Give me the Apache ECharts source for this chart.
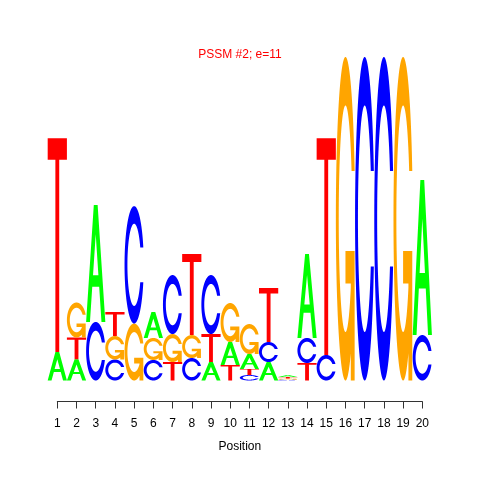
<!DOCTYPE html>
<html><head><meta charset="utf-8">
<script src="https://cdn.jsdelivr.net/npm/echarts@6/dist/echarts.min.js"></script>
<style>html,body{margin:0;padding:0;background:#fff}#c{width:480px;height:480px}</style>
</head><body><div id="c"></div>
<script>
// ---- data (information content in bits per letter) ----
const positions = [1,2,3,4,5,6,7,8,9,10,11,12,13,14,15,16,17,18,19,20];
const tickLabels = ['1','2','3','4','5','6','7','8','9','10','11','12','13','14','15','16','17','18','19','20'];
const letters = ['A','C','G','T'];
const bitsA = [0.176,0.132,0.723,0,    0,    0.161,0,    0,    0.114,0.142,0.093,0.114,0.012,0.519,0,    0,  0,  0,  0,  0.958];
const bitsC = [0,    0,    0.362,0.130,0.726,0.127,0.365,0.139,0.365,0,    0.034,0.124,0.005,0.155,0.158,0,  2.0,2.0,0,  0.281];
const bitsG = [0,    0.216,0,    0.145,0.352,0.136,0.173,0.142,0,    0.241,0.185,0,    0.007,0,    0,    2.0,0,  0,  2.0,0];
const bitsT = [1.321,0.134,0,    0.148,0,    0,    0.114,0.501,0.173,0.096,0.037,0.334,0.009,0.108,1.340,0,  0,  0,  0,  0];
const titleText = 'PSSM #2; e=11';
const xName = 'Position';

// ---- letter glyph polygons (unit box, y up) ----
const colors = ['#00FF00','#0000FF','#FFA500','#FF0000'];
function ringC() {
  const n = 100;
  const a1 = [], a2 = [];
  for (let i = 0; i < n; i++) a1.push(0.3 + Math.PI/2 + (Math.PI - 0.3 - Math.PI/2) * i/(n-1));
  for (let i = 0; i < n; i++) a2.push(Math.PI + 0.5*Math.PI * i/(n-1));
  const la = a1.concat(a2);
  const xl = la.map(a => 0.5 + 0.5*Math.sin(a)), yl = la.map(a => 0.5 + 0.5*Math.cos(a));
  const maxY1 = Math.max(...a1.map(a => 0.5 + 0.5*Math.cos(a)));
  let xi1 = [], yi1 = [];
  a1.forEach(a => { const y = 0.5 + 0.35*Math.cos(a); if (y <= maxY1) { xi1.push(0.5 + 0.35*Math.sin(a)); yi1.push(y); } });
  yi1[0] = maxY1;
  const xi = xi1.concat(a2.map(a => 0.5 + 0.35*Math.sin(a)));
  const yi = yi1.concat(a2.map(a => 0.5 + 0.35*Math.cos(a)));
  const pts = [];
  for (let i = 0; i < xl.length; i++) pts.push([xl[i], yl[i]]);
  for (let i = xl.length - 1; i >= 0; i--) pts.push([xl[i], 1 - yl[i]]);
  const ipts = [];
  for (let i = 0; i < xi.length; i++) ipts.push([xi[i], yi[i]]);
  for (let i = xi.length - 1; i >= 0; i--) ipts.push([xi[i], 1 - yi[i]]);
  for (let i = ipts.length - 1; i >= 0; i--) pts.push(ipts[i]);
  return { pts, r1: Math.max(...a1.map(a => 0.5 + 0.5*Math.sin(a))) };
}
const cr = ringC();
const r1 = cr.r1;
const shapes = [
  [ [[0,0],[0.4,1],[0.6,1],[1,0],[0.8,0],[0.68,0.3],[0.32,0.3],[0.2,0]],
    [[0.36,0.4],[0.64,0.4],[0.5,0.75]] ],
  [ cr.pts ],
  [ cr.pts, [[r1,0.4],[r1,0],[r1-0.2,0],[r1-0.2,0.3],[0.5,0.3],[0.5,0.4]] ],
  [ [[0,1],[1,1],[1,0.9],[0.6,0.9],[0.6,0],[0.4,0],[0.4,0.9],[0,0.9]] ]
];

// ---- stacked data ----
const allBits = [bitsA, bitsC, bitsG, bitsT];
const stackData = [];
positions.forEach((p, j) => {
  const items = [0,1,2,3].map(k => ({k, h: allBits[k][j]})).filter(o => o.h > 0);
  items.sort((a, b) => a.h - b.h);
  let base = 0;
  items.forEach(o => { stackData.push([p, base, base + o.h, o.k]); base += o.h; });
});

const chart = echarts.init(document.getElementById('c'), null, {renderer: 'canvas'});
chart.setOption({
  animation: false,
  backgroundColor: '#fff',
  title: {
    text: titleText, left: 'center', top: 48.5, padding: 0,
    textStyle: {color: '#FF0000', fontSize: 12, fontWeight: 'normal', fontFamily: 'Liberation Sans'}
  },
  grid: {left: 57.3, right: 57.7, top: 57, bottom: 99.5},
  xAxis: {
    type: 'value', min: 1, max: 20, interval: 1, offset: 21,
    axisLine: {show: true, onZero: false, lineStyle: {color: '#333', width: 1}},
    axisTick: {show: true, length: 7, lineStyle: {color: '#333'}},
    axisLabel: {margin: 16, fontSize: 12, color: '#000', fontFamily: 'Liberation Sans',
      formatter: v => tickLabels[positions.indexOf(v)] || ''},
    splitLine: {show: false},
    name: xName, nameLocation: 'middle', nameGap: 39,
    nameTextStyle: {fontSize: 12, color: '#000', fontFamily: 'Liberation Sans'}
  },
  yAxis: {type: 'value', min: 0, max: 2, show: false},
  series: [{
    type: 'custom',
    clip: false,
    data: stackData,
    encode: {x: 0, y: [1, 2]},
    renderItem: (params, api) => {
      const pos = api.value(0), y0 = api.value(1), y1 = api.value(2), li = api.value(3);
      const p0 = api.coord([pos - 0.5, y1]);
      const p1 = api.coord([pos + 0.5, y0]);
      const x = p0[0], top = p0[1], w = p1[0] - p0[0], h = p1[1] - p0[1];
      const d = shapes[li].map(poly => poly.map((pt, i) =>
        (i ? 'L' : 'M') + (x + pt[0]*w).toFixed(2) + ' ' + (top + (1 - pt[1])*h).toFixed(3)).join(' ') + ' Z').join(' ');
      return {type: 'path', shape: {pathData: d}, style: {fill: colors[li]}, silent: true};
    }
  }]
});
</script></body></html>
